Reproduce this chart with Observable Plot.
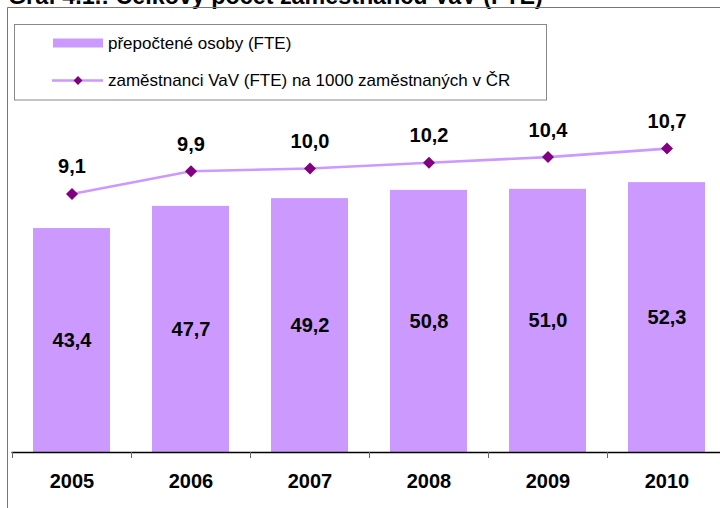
<!DOCTYPE html>
<html>
<head>
<meta charset="utf-8">
<script src="https://cdn.jsdelivr.net/npm/d3@7"></script>
<script src="https://cdn.jsdelivr.net/npm/@observablehq/plot@0.6"></script>
<style>
  body { margin: 0; background: #fff; font-family: "Liberation Sans", Arial, sans-serif; }
  #wrap { position: relative; width: 720px; height: 508px; overflow: hidden; background: #fff; }
  #chart, #overlay { position: absolute; left: 0; top: 0; }
  #overlay { pointer-events: none; }
</style>
</head>
<body>
<div id="wrap">
  <div id="chart"></div>
  <svg id="overlay" width="720" height="508"></svg>
</div>
<script>
// ---- data ----
const years = ["2005", "2006", "2007", "2008", "2009", "2010"];
const fte = [43.4, 47.7, 49.2, 50.8, 51.0, 52.3];            // přepočtené osoby (FTE), thousands
const perThousand = [9.1, 9.9, 10.0, 10.2, 10.4, 10.7];      // zaměstnanci VaV (FTE) na 1000 zaměstnaných
const titleText = "Graf 4.1.: Celkový počet zaměstnanců VaV (FTE)";
const legendLabels = ["přepočtené osoby (FTE)", "zaměstnanci VaV (FTE) na 1000 zaměstnaných v ČR"];

// primary axis max and secondary axis max (line series)
const yMax = 60, y2Max = 10.9;

const data = years.map((y, i) => ({ year: y, fte: fte[i], rate: perThousand[i] }));
const fmt = v => v.toFixed(1).replace(".", ",");

const barColor = "#CC99FF";
const lineColor = "#CC99FF";
const markerColor = "#800080";

const x0 = 11.5, x1 = 725.5;
const step = (x1 - x0) / years.length;
const toPrimary = v => v * yMax / y2Max;

const plot = Plot.plot({
  width: 720,
  height: 508,
  marginLeft: 11.5,
  marginRight: 0,
  marginTop: 142.4,
  marginBottom: 56,
  x: { domain: years, range: [x0, x1], paddingInner: 0.357, paddingOuter: 0.1785, label: null },
  y: { domain: [0, yMax], axis: null },
  style: { fontFamily: "'Liberation Sans', Arial, sans-serif", background: "transparent", overflow: "visible" },
  marks: [
    Plot.barY(data, { x: "year", y: "fte", fill: barColor }),
    Plot.text(data, { x: "year", y: d => d.fte / 2, text: d => fmt(d.fte), fontSize: 20, fontWeight: "bold", fill: "#000" }),
    Plot.ruleY([0], { stroke: "#000", strokeWidth: 1.5 }),
    Plot.axisX({ tickSize: 6, tickFormat: () => "", label: null, dx: -step / 2, stroke: "#666" }),
    Plot.text(data, { x: "year", frameAnchor: "bottom", dy: 35, text: "year", fontSize: 20, fontWeight: "bold", fill: "#000" }),
    Plot.line(data, { x: "year", y: d => toPrimary(d.rate), stroke: lineColor, strokeWidth: 2.6 }),
    Plot.dot(data, { x: "year", y: d => toPrimary(d.rate), symbol: "diamond2", r: 5.4, fill: markerColor, stroke: "none" }),
    Plot.text(data, { x: "year", y: d => toPrimary(d.rate), dy: -27, text: d => fmt(d.rate), fontSize: 20, fontWeight: "bold", fill: "#000" })
  ]
});
document.getElementById("chart").appendChild(plot);

// ---- frame, cropped title and legend ----
const svg = d3.select("#overlay");
svg.append("text")
  .attr("x", 8).attr("y", 4)
  .attr("font-family", "'Liberation Sans', Arial, sans-serif")
  .attr("font-size", 23.3).attr("font-weight", "bold")
  .text(titleText);
svg.append("path")
  .attr("d", "M7.5,520 V7.5 H730")
  .attr("fill", "none").attr("stroke", "#777").attr("stroke-width", 1);

const lg = svg.append("g");
lg.append("rect")
  .attr("x", 14.5).attr("y", 24.5).attr("width", 532).attr("height", 75.5)
  .attr("fill", "#fff").attr("stroke", "#888").attr("stroke-width", 1);
lg.append("rect")
  .attr("x", 53).attr("y", 38.5).attr("width", 50).attr("height", 9)
  .attr("fill", barColor);
lg.append("line")
  .attr("x1", 52).attr("x2", 103).attr("y1", 80.5).attr("y2", 80.5)
  .attr("stroke", lineColor).attr("stroke-width", 2.6);
lg.append("path")
  .attr("d", d3.symbol(d3.symbolDiamond2, 5.4 * 5.4 * Math.PI * 0.55)())
  .attr("transform", "translate(78,80.5)")
  .attr("fill", markerColor);
legendLabels.forEach((t, i) => {
  lg.append("text")
    .attr("x", 108).attr("y", i === 0 ? 43.5 : 80)
    .attr("dy", "0.35em")
    .attr("font-family", "'Liberation Sans', Arial, sans-serif")
    .attr("font-size", 17)
    .attr("fill", "#000")
    .text(t);
});
</script>
</body>
</html>
